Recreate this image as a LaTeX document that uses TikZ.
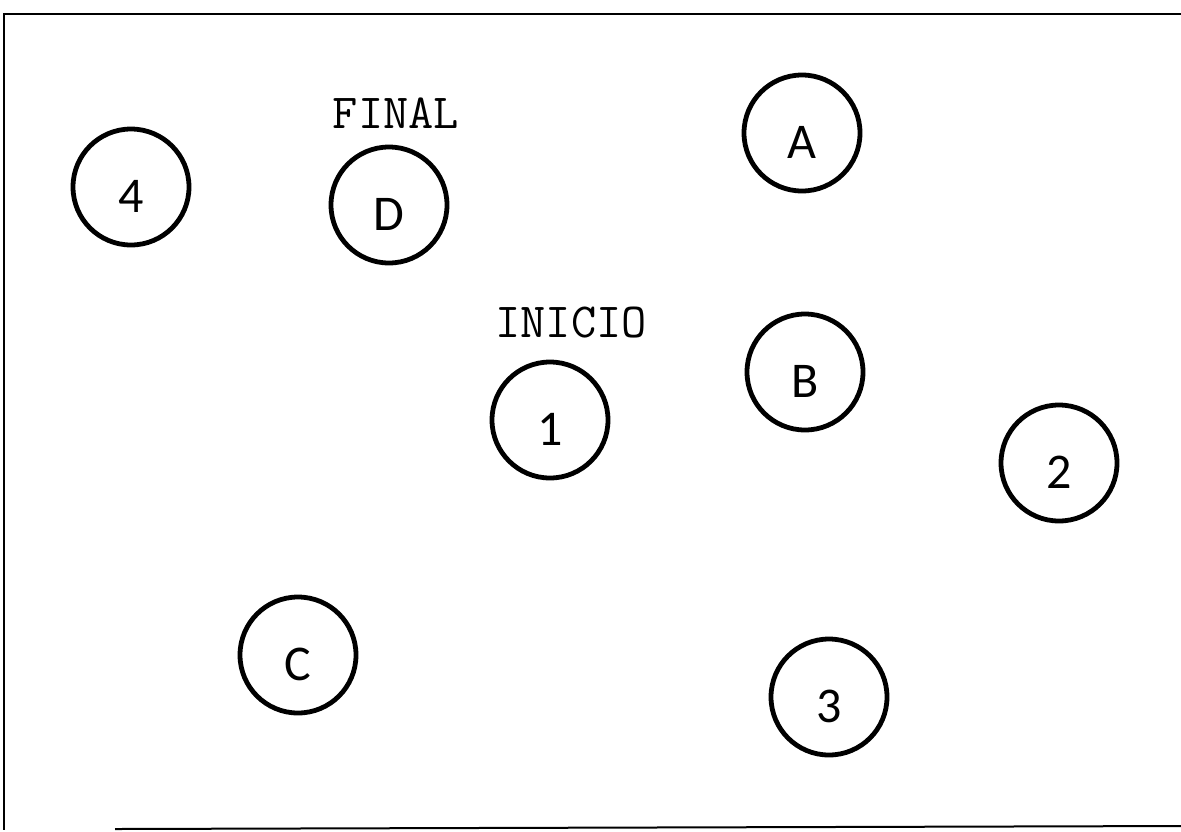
\documentclass[tikz,border=0pt]{standalone}
\usepackage{fontspec}
\setmainfont{Carlito}
\usetikzlibrary{positioning}
\newlength{\unitpx}
\setlength{\unitpx}{0.5pt}
\tikzset{
  grafo/estado/.style={
    draw=black, circle, line width=2.4pt, minimum size=116\unitpx,
    inner sep=0pt, text height=25pt, text depth=0pt,
    font=\fontsize{25}{30}\selectfont
  },
  grafo/etiqueta/.style={
    anchor=base, inner sep=0pt, font=\ttfamily\fontsize{24.5}{28}\selectfont
  },
  grafo/marco/.style={draw=black, line width=1pt}
}

\begin{document}
\begin{tikzpicture}[x=0.5pt, y=-0.5pt]
  \useasboundingbox (0,0) rectangle (1181,831);
  % marco escaneado
  \draw[grafo/marco] (1185,14) -- (4,14) -- (4,830);
  \draw[grafo/marco] (115,829) -- (1185,826);
  % estados
  \node[grafo/estado] (n4) at (131,187) {4};
  \node[grafo/estado] (nD) at (389,205) {D};
  \node[grafo/estado] (nA) at (802,133) {A};
  \node[grafo/estado] (nB) at (805,372) {B};
  \node[grafo/estado] (n1) at (550,420) {1};
  \node[grafo/estado] (n2) at (1059,463) {2};
  \node[grafo/estado] (nC) at (298,655) {C};
  \node[grafo/estado] (n3) at (829,697) {3};
  % etiquetas
  \node[grafo/etiqueta] (final) at (396,128) {FINAL};
  \node[grafo/etiqueta] (inicio) at (571,337) {INICIO};
\end{tikzpicture}
\end{document}
